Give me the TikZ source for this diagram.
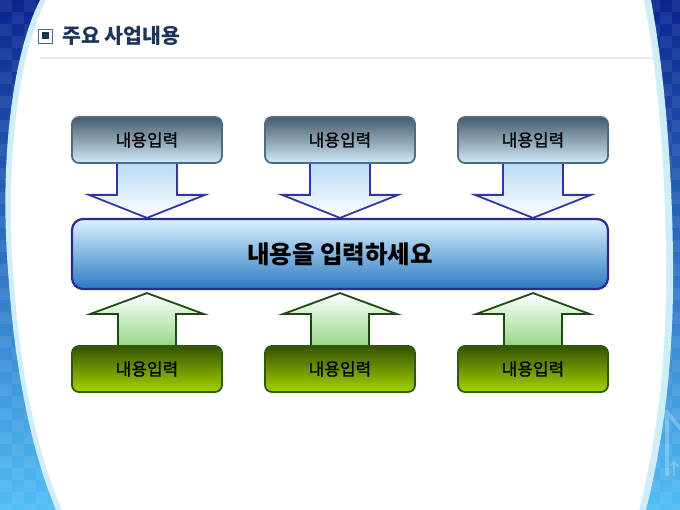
\documentclass[tikz,border=0pt]{standalone}
\usepackage{fontspec}
\newfontfamily\kr{Noto Sans CJK KR}
\newfontfamily\krm[FakeBold=1.0]{Noto Sans CJK KR}
\usetikzlibrary{calc}
\pgfdeclarelayer{back}
\pgfdeclarelayer{arrowlayer}
\pgfsetlayers{back,arrowlayer,main}
\definecolor{bgtop}{HTML}{0A2590}
\definecolor{bgmid}{HTML}{1E6AD2}
\definecolor{bgbot}{HTML}{52BDF5}
\definecolor{band}{HTML}{CDEEF8}
\definecolor{titlec}{HTML}{1B3556}
\definecolor{tbtop}{HTML}{465B6C}
\definecolor{tbmid}{HTML}{8CB2CA}
\definecolor{tbbot}{HTML}{CFEAFA}
\definecolor{tbline}{HTML}{506C82}
\definecolor{mbtop}{HTML}{DCF2FD}
\definecolor{mbmid}{HTML}{86C2EC}
\definecolor{mbbot}{HTML}{2A7AC2}
\definecolor{mbline}{HTML}{2B2B8E}
\definecolor{gbtop}{HTML}{345200}
\definecolor{gbmid}{HTML}{6E9A00}
\definecolor{gbbot}{HTML}{A6D400}
\definecolor{gbline}{HTML}{2C5A08}
\definecolor{dael}{HTML}{3434A6}
\definecolor{datop}{HTML}{B3D9F5}
\definecolor{uael}{HTML}{1C4A12}
\definecolor{uabot}{HTML}{8ED47C}
\begin{document}
\begin{tikzpicture}[x=1pt,y=-1pt,
  topbox/.style={rounded corners=7, draw=tbline, line width=1.8,
    top color=tbtop, middle color=tbmid, bottom color=tbbot,
    minimum width=150, minimum height=46, inner sep=0,
    font=\krm\fontsize{17}{20}\selectfont},
  botbox/.style={rounded corners=7, draw=gbline, line width=1.8,
    top color=gbtop, middle color=gbmid, bottom color=gbbot,
    minimum width=150, minimum height=46, inner sep=0,
    font=\krm\fontsize{17}{20}\selectfont},
  midbox/.style={rounded corners=11, draw=mbline, line width=2.2,
    top color=mbtop, middle color=mbmid, bottom color=mbbot,
    minimum width=536, minimum height=70, inner sep=0,
    font=\kr\bfseries\fontsize{24.5}{28}\selectfont},
  downarrow/.style={draw=dael, line width=1.8, top color=datop, bottom color=white, line join=miter},
  uparrow/.style={draw=uael, line width=1.8, top color=white, bottom color=uabot, line join=miter}
]
\useasboundingbox (0,0) rectangle (680,510);

% boxes
\foreach \i/\x in {1/147,2/340,3/533}{
  \node[topbox] (t\i) at (\x,140) {내용입력};
  \node[botbox] (b\i) at (\x,369) {내용입력};
}
\node[midbox] (m) at (340,254) {내용을 입력하세요};

% title
\node[draw=tbline, line width=0.8, minimum size=14, inner sep=0] (ic) at (45.5,36) {};
\node[fill=titlec, minimum size=7, inner sep=0] (icin) at (ic.center) {};
\node[anchor=west, inner sep=0, text=titlec, font=\kr\bfseries\fontsize{20.5}{24}\selectfont] (title) at (62,36) {주요 사업내용};
\coordinate (ruleL) at (40,58);
\coordinate (ruleR) at (654,58);
\draw[color=black!9, line width=1.4] (ruleL) -- (ruleR);

% background
\begin{pgfonlayer}{back}
  \fill[top color=bgtop, middle color=bgmid, bottom color=bgbot] (0,0) rectangle (680,510);
  \foreach \xx in {0,24,48,600,624,648,672}{
    \foreach \yy in {0,24,...,504}{
      \fill[white, opacity=0.07] (\xx,\yy) rectangle ++(12,12);
      \fill[white, opacity=0.07] (\xx+12,\yy+12) rectangle ++(12,12);
    }
  }
  % faint decorative arrows
  \draw[white, opacity=0.25, line width=4, line cap=round] (667,474) -- (667,412) (652,430) -- (667,412) -- (680,428);
  \draw[white, opacity=0.25, line width=1.5] (674,476) -- (674,462) (670,466) -- (674,462) -- (678,466);
  % light band
  \fill[band] (40,0) .. controls (10,60) and (0,170) .. (8,270)
     .. controls (15,380) and (35,460) .. (56,510) -- (646,510)
     .. controls (666,430) and (674,350) .. (673,260)
     .. controls (672,160) and (664,70) .. (651,0) -- cycle;
  \fill[white] (46,0) .. controls (16,60) and (6,170) .. (13,270)
     .. controls (20,380) and (40,460) .. (62,510) -- (639,510)
     .. controls (659,430) and (667,350) .. (666,260)
     .. controls (665,160) and (657,70) .. (644,0) -- cycle;
\end{pgfonlayer}

% arrows
\begin{pgfonlayer}{arrowlayer}
\foreach \i in {1,2,3}{
  \draw[downarrow] ($(t\i.south)+(-30,-4)$) -- ($(t\i.south |- m.north)+(-30,-23)$)
     -- ++(-28,0) -- (t\i.south |- m.north) -- ++(58,-23) -- ++(-28,0)
     -- ($(t\i.south)+(30,-4)$) -- cycle;
  \draw[uparrow] ($(b\i.north |- m.south)+(0,3)$) -- ++(57,21) -- ++(-28,0)
     -- ($(b\i.north)+(29,4)$) -- ++(-58,0)
     -- ($(b\i.north |- m.south)+(-29,24)$) -- ++(-28,0) -- cycle;
}
\end{pgfonlayer}
\end{tikzpicture}
\end{document}
